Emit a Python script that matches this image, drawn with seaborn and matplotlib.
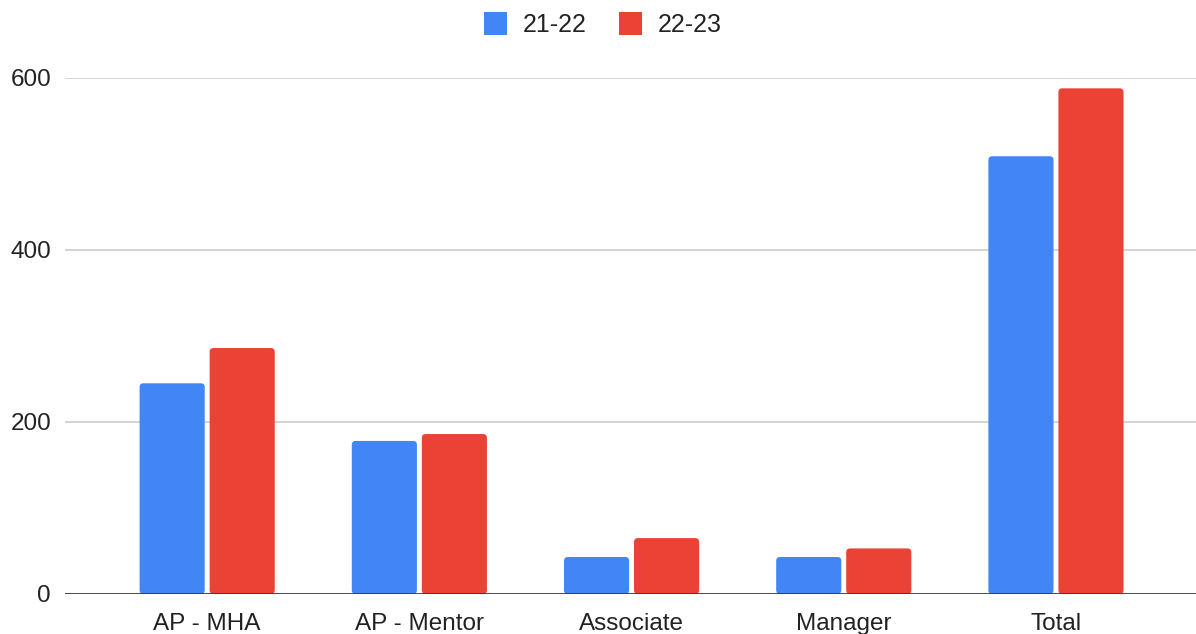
import pandas as pd
import seaborn as sns
import matplotlib.pyplot as plt
from matplotlib.patches import FancyBboxPatch, Patch

# Values
categories = ['AP - MHA', 'AP - Mentor', 'Associate', 'Manager', 'Total']
y2122 = [245, 178, 43, 43, 509]
y2223 = [286, 186, 65, 53, 588]
series = ['21-22', '22-23']
colors = ['#4285F4', '#EA4335']

df = pd.DataFrame({
    'Role': categories * 2,
    'Year': [series[0]] * len(categories) + [series[1]] * len(categories),
    'Count': y2122 + y2223,
})

sns.set_theme(style="white")
plt.rcParams['font.family'] = ['Liberation Sans', 'DejaVu Sans']

fig = plt.figure(figsize=(11.96, 6.34), dpi=100)
ax = fig.add_axes([65 / 1196, 40 / 634, 1 - 65 / 1196, (594 - 78) / 634])

sns.barplot(data=df, x='Role', y='Count', hue='Year', order=categories,
            hue_order=series, palette=colors,
            width=0.66, gap=0.07, saturation=1, legend=False, ax=ax)

ax.set_ylim(0, 600)
ax.set_xlim(-0.67, 4.66)

# slightly rounded bar corners
for p in list(ax.patches):
    rounded = FancyBboxPatch((p.get_x(), p.get_y()), p.get_width(), p.get_height(),
                             boxstyle="round,pad=0,rounding_size=0.018",
                             mutation_aspect=250, facecolor=p.get_facecolor(),
                             edgecolor='none', zorder=p.get_zorder())
    p.remove()
    ax.add_patch(rounded)

ax.set_yticks([0, 200, 400, 600])
ax.yaxis.grid(True, color='#cccccc', linewidth=1.2)
ax.set_axisbelow(True)
ax.axhline(0, color='#333333', linewidth=1.2, zorder=3)
for s in ax.spines.values():
    s.set_visible(False)
ax.tick_params(axis='both', length=0, labelsize=17.5, colors='#222222')
ax.tick_params(axis='y', pad=10)
ax.tick_params(axis='x', pad=14)
ax.set_xlabel('')
ax.set_ylabel('')

handles = [Patch(facecolor=c, edgecolor='none') for c in colors]
ax.legend(handles, series, loc='upper center',
          bbox_to_anchor=(0.5 - 28 / 1131, 1 + 88 / 516),
          ncol=2, frameon=False, fontsize=18, handlelength=0.95, handleheight=1.0,
          columnspacing=1.3, handletextpad=0.6, labelcolor='#222222')

fig.savefig('out.png', dpi=100)
